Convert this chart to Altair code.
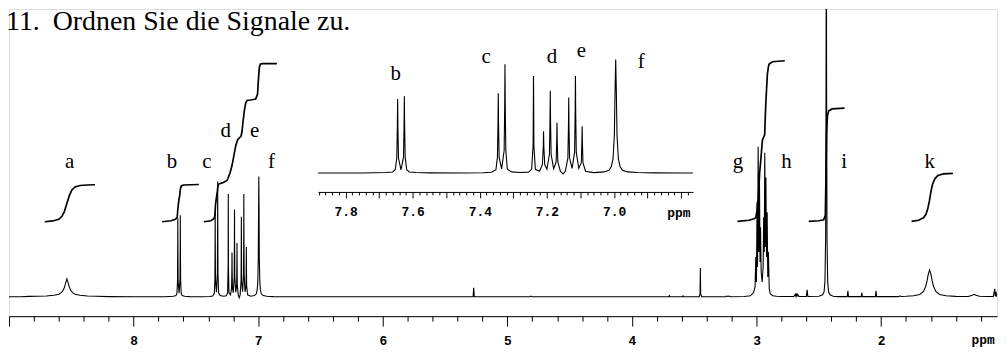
import altair as alt
import pandas as pd

TITLE_NUM = "11."
TITLE_TEXT = "Ordnen Sie die Signale zu."

# ---- spectrum trace: ppm, intensity (main-plot px above baseline)
base_left_ppm = [9.05, 9.0, 8.90, 8.84, 8.78]
base_left_v = [0, 0, 0, 0.4, 0.6]
peak_a_ppm = [8.70, 8.64, 8.60, 8.58, 8.565, 8.555, 8.545, 8.535, 8.525, 8.515, 8.505, 8.49, 8.47, 8.43, 8.37, 8.30, 8.20, 8.00, 7.882, 7.75]
peak_a_v = [0.8, 1.5, 2.6, 4.2, 6.5, 9.5, 14, 18, 14, 9.5, 6.5, 4.2, 2.6, 1.5, 0.8, 0.5, 0.2, 0, 0, 0]
peak_b_ppm = [7.68, 7.66, 7.652, 7.6475, 7.6458, 7.645, 7.6442, 7.6425, 7.635, 7.6275, 7.6258, 7.625, 7.6242, 7.6225, 7.618, 7.61, 7.59, 7.55, 7.45]
peak_b_v = [0.5, 1.2, 3.5, 16, 50, 79, 50, 16, 3.5, 17, 52, 82, 52, 17, 3.5, 1.2, 0.5, 0.2, 0]
peak_c_ppm = [7.39, 7.365, 7.352, 7.3475, 7.3458, 7.345, 7.3442, 7.3425, 7.335, 7.3275, 7.3258, 7.325, 7.3242, 7.3225, 7.318, 7.305, 7.28, 7.255]
peak_c_v = [0.3, 0.8, 3.5, 17, 53, 85, 53, 17, 4.5, 24, 72, 116, 72, 24, 4, 1.2, 0.6, 1]
peak_solv_ppm = [7.2455, 7.2412, 7.24, 7.2388, 7.2345]
peak_solv_v = [4, 30, 103.5, 30, 4]
peak_d_ppm = [7.222, 7.2135, 7.2108, 7.21, 7.2092, 7.2065, 7.2, 7.1925, 7.1908, 7.19, 7.1892, 7.1875, 7.18, 7.1725, 7.1708, 7.17, 7.1692, 7.1675, 7.16, 7.152]
peak_d_v = [2, 9, 28, 44.5, 28, 9, 4, 20, 55, 87.7, 55, 20, 4.5, 12, 34, 54, 34, 12, 2, -1.0]
peak_e_ppm = [7.145, 7.1375, 7.1358, 7.135, 7.1342, 7.1325, 7.125, 7.1175, 7.1158, 7.115, 7.1142, 7.1125, 7.105, 7.0975, 7.0958, 7.095, 7.0942, 7.0925, 7.085, 7.06, 7.03]
peak_e_v = [2, 16, 50, 80.5, 50, 16, 5, 22, 65, 103.5, 65, 22, 5, 11, 32, 50, 32, 11, 2, 0.5, 1.2]
peak_f_ppm = [7.015, 7.008, 7.003, 6.999, 6.997, 6.995, 6.993, 6.991, 6.987, 6.982, 6.975, 6.96, 6.93, 6.88, 6.80, 6.765, 6.70]
peak_f_v = [3, 7, 15, 40, 85, 121, 85, 40, 15, 7, 3, 1.2, 0.5, 0.2, 0, 0, 0]
mid_ppm = [6.0, 5.40, 5.275, 5.27, 5.265, 5.20, 4.82, 4.81, 4.80, 3.80, 3.705, 3.70, 3.695, 3.595, 3.59, 3.585, 3.46, 3.4535, 3.451, 3.4485, 3.44, 3.25, 3.24, 3.23, 3.22, 3.21, 3.10]
mid_v = [0, 0, 0, 9, 0, 0, 0, 0.7, 0, 0, 0, 1.2, 0, 0, 1, 0, 0, 3, 29, 3, 0, 0, 0.8, 0.3, 0.8, 0, 0.3]
peak_gh_ppm = [3.05, 3.025, 3.012, 3.006, 3.001, 2.996, 2.992, 2.987, 2.982, 2.977, 2.972, 2.968, 2.963, 2.955, 2.947, 2.943, 2.938, 2.934, 2.929, 2.925, 2.92, 2.915, 2.91, 2.905, 2.898, 2.89, 2.87, 2.84]
peak_gh_v = [1, 4, 10, 40, 15, 95, 30, 151, 45, 125, 35, 70, 25, 15, 30, 80, 45, 145, 50, 120, 40, 85, 20, 45, 8, 3, 1, 0.5]
small_ppm = [2.80, 2.70, 2.69, 2.685, 2.68, 2.675, 2.67, 2.66, 2.60, 2.594, 2.588]
small_v = [0.3, 0.3, 2.5, 0.8, 3.5, 0.8, 2.5, 0.3, 0.3, 7, 0.3]
peak_i_ppm = [2.50, 2.47, 2.458, 2.451, 2.4455, 2.4425, 2.44, 2.4375, 2.4345, 2.429, 2.422, 2.41, 2.385, 2.35]
peak_i_v = [0.6, 2, 5, 15, 60, 200, 420, 200, 60, 15, 5, 2, 0.6, 0.2]
small2_ppm = [2.272, 2.267, 2.262, 2.16, 2.155, 2.15, 2.046, 2.041, 2.036, 1.86, 1.85, 1.84]
small2_v = [0.2, 6, 0.2, 0.2, 4, 0.2, 0.2, 6, 0.2, 0.2, 1, 0.3]
peak_k_ppm = [1.80, 1.74, 1.69, 1.66, 1.641, 1.631, 1.621, 1.611, 1.601, 1.591, 1.581, 1.561, 1.531, 1.48, 1.40]
peak_k_v = [0.5, 1, 2.4, 5.4, 11, 16.5, 23, 27, 23, 16.5, 11, 5.4, 2.4, 1, 0.4]
tail_ppm = [1.30, 1.27, 1.25, 1.24, 1.21, 1.15, 1.10, 1.088, 1.084, 1.078, 1.073, 1.0]
tail_v = [0.3, 1.5, 2.5, 1.5, 0.5, 0.3, 0.3, 8, 0.5, 5, 0.5, 0.3]

# ---- integral curves (ppm, height in main-plot px above baseline)
int_a_ppm = [8.713, 8.65, 8.60, 8.575, 8.555, 8.535, 8.515, 8.495, 8.47, 8.43, 8.37, 8.31]
int_a_v = [75.5, 76.3, 78, 81, 86, 94, 102, 107.5, 110.5, 112, 112.5, 112.7]
int_b_ppm = [7.771, 7.70, 7.665, 7.65, 7.645, 7.638, 7.63, 7.625, 7.618, 7.60, 7.476]
int_b_v = [75.5, 76.5, 78, 80, 88, 96, 102, 108, 111.5, 112.5, 113]
int_cf_ppm = [7.436, 7.38, 7.355, 7.347, 7.343, 7.335, 7.328, 7.323, 7.315, 7.28, 7.25, 7.243, 7.237, 7.225, 7.21, 7.195, 7.18, 7.165, 7.15, 7.138, 7.13, 7.12, 7.11, 7.10, 7.09, 7.06, 7.02, 7.005, 7.0, 6.995, 6.99, 6.983, 6.97, 6.85]
int_cf_v = [75.5, 76.5, 78.5, 82, 92, 100, 106, 111.5, 113.5, 115, 117, 119, 121, 125, 132, 142, 152, 158, 160, 161.5, 166, 178, 188, 195, 197.5, 198, 199, 204, 215, 224, 231, 234, 234.5, 234.5]
int_gh_ppm = [3.153, 3.06, 3.02, 3.006, 2.995, 2.985, 2.975, 2.966, 2.958, 2.953, 2.945, 2.935, 2.927, 2.92, 2.913, 2.905, 2.9, 2.873, 2.773]
int_gh_v = [75.8, 77, 78.5, 79.5, 88, 100, 125, 137.5, 150, 157.5, 160, 163, 190.8, 208, 224, 231, 234, 236.5, 237.5]
int_i_ppm = [2.581, 2.50, 2.461, 2.448, 2.443, 2.438, 2.431, 2.421, 2.394, 2.294]
int_i_v = [75.8, 76.5, 77.5, 82, 120, 164, 182, 187, 189, 189.8]
int_k_ppm = [1.756, 1.70, 1.66, 1.64, 1.625, 1.612, 1.60, 1.588, 1.57, 1.545, 1.50, 1.424]
int_k_v = [75.8, 77, 79.5, 83, 89, 97, 106, 113, 118.5, 122, 123.7, 124.2]

# ---- signal letters
main_labels = ["a", "b", "c", "d", "e", "f", "g", "h", "i", "k"]
main_label_ppm = [8.513, 7.691, 7.412, 7.260, 7.029, 6.893, 3.150, 2.759, 2.296, 1.610]
main_label_v = [129.5, 129.5, 129.5, 160.5, 160.5, 129.5, 129.5, 129.5, 129.5, 129.5]
inset_labels = ["b", "c", "d", "e", "f"]
inset_label_ppm = [7.651, 7.381, 7.185, 7.097, 6.919]
inset_label_v = [99.6, 117.7, 117.7, 124.0, 112.4]

main_ticks = [round(9.0 - 0.2 * i, 1) for i in range(40)]
inset_ticks = [round(7.88 - 0.02 * i, 2) for i in range(56)]

trace_ppm = (base_left_ppm + peak_a_ppm + peak_b_ppm + peak_c_ppm + peak_solv_ppm + peak_d_ppm
             + peak_e_ppm + peak_f_ppm + mid_ppm + peak_gh_ppm + small_ppm + peak_i_ppm
             + small2_ppm + peak_k_ppm + tail_ppm)
trace_v = (base_left_v + peak_a_v + peak_b_v + peak_c_v + peak_solv_v + peak_d_v
           + peak_e_v + peak_f_v + mid_v + peak_gh_v + small_v + peak_i_v
           + small2_v + peak_k_v + tail_v)
spec_df = pd.DataFrame({"ppm": trace_ppm, "v": trace_v})

int_rows = []
for name, pp, vv in [("a", int_a_ppm, int_a_v), ("b", int_b_ppm, int_b_v), ("cf", int_cf_ppm, int_cf_v),
                     ("gh", int_gh_ppm, int_gh_v), ("i", int_i_ppm, int_i_v), ("k", int_k_ppm, int_k_v)]:
    for p, v in zip(pp, vv):
        int_rows.append({"grp": name, "ppm": p, "v": v})
int_df = pd.DataFrame(int_rows)

lab_df = pd.DataFrame({"lab": main_labels, "ppm": main_label_ppm, "v": main_label_v})
ilab_df = pd.DataFrame({"lab": inset_labels, "ppm": inset_label_ppm, "v": inset_label_v})

W, H = 994, 309
MONO = "Liberation Mono"
SERIF = "Liberation Serif"

main_x_scale = alt.Scale(domain=[1.07, 9.0], reverse=True, nice=False, zero=False)
main_y_scale = alt.Scale(domain=[-19.5, 289.5], nice=False, zero=False)
is_int = "abs(datum.value - round(datum.value)) < 0.01"
main_axis = alt.Axis(
    orient="bottom", values=main_ticks, title=None, grid=False,
    labelExpr=f"({is_int}) && datum.value < 8.5 ? format(datum.value, '.0f') : ''",
    tickSize={"condition": {"test": is_int, "value": 10}, "value": 5},
    tickColor="black", domainColor="black", tickWidth=1, domainWidth=1,
    labelFont=MONO, labelFontWeight="bold", labelFontSize=13, labelColor="black",
    labelPadding=8, labelOverlap=False, labelFlush=False, labelBound=False,
)
mx = alt.X("ppm:Q", scale=main_x_scale, axis=main_axis)
my = alt.Y("v:Q", scale=main_y_scale, axis=None)

main_line = alt.Chart(spec_df).mark_line(color="black", strokeWidth=1.1, clip=True).encode(x=mx, y=my)
integrals = alt.Chart(int_df).mark_line(color="black", strokeWidth=1.7, clip=True).encode(
    x=mx, y=my, detail="grp:N")
letters = alt.Chart(lab_df).mark_text(font=SERIF, fontSize=21, color="black", baseline="alphabetic",
                                       align="center").encode(x=mx, y=my, text="lab:N")
title_num = alt.Chart(pd.DataFrame({"t": [TITLE_NUM]})).mark_text(
    font=SERIF, fontSize=28, color="black", align="right", baseline="alphabetic").encode(
    x=alt.value(31), y=alt.value(21), text="t:N")
title_txt = alt.Chart(pd.DataFrame({"t": [TITLE_TEXT]})).mark_text(
    font=SERIF, fontSize=28, color="black", align="left", baseline="alphabetic").encode(
    x=alt.value(44), y=alt.value(21), text="t:N")
ppm_main = alt.Chart(pd.DataFrame({"t": ["ppm"]})).mark_text(
    font=MONO, fontWeight="bold", fontSize=13, color="black", align="center", baseline="middle").encode(
    x=alt.value(980), y=alt.value(333), text="t:N")

main_group = alt.layer(main_line, integrals, letters, title_num, title_txt, ppm_main)

# ---- inset
INSET_RANGE = [311, 688]
inset_x_scale = alt.Scale(domain=[6.765, 7.882], reverse=True, nice=False, zero=False, range=INSET_RANGE)
inset_y_scale = alt.Scale(domain=[0, 127.2], nice=False, zero=False, range=[165, 45])
is_tenth = "abs(datum.value * 10 - round(datum.value * 10)) < 0.01"
is_fifth = "abs(datum.value * 5 - round(datum.value * 5)) < 0.01"
inset_axis = alt.Axis(
    orient="bottom", offset=-125, values=inset_ticks, title=None, grid=False,
    labelExpr=f"({is_fifth}) && datum.value > 6.9 ? format(datum.value, '.1f') : ''",
    tickSize={"condition": {"test": is_tenth, "value": 6}, "value": 3},
    tickColor="black", domainColor="black", tickWidth=1, domainWidth=1,
    labelFont=MONO, labelFontWeight="bold", labelFontSize=13, labelColor="black",
    labelPadding=8, labelOverlap=False, labelFlush=False, labelBound=False,
)
ix = alt.X("ppm:Q", scale=inset_x_scale, axis=inset_axis)
iy = alt.Y("v:Q", scale=inset_y_scale, axis=None)

inset_line = alt.Chart(spec_df).transform_filter(
    alt.FieldRangePredicate(field="ppm", range=[6.765, 7.882])
).mark_line(color="black", strokeWidth=1.1).encode(x=ix, y=iy)
inset_letters = alt.Chart(ilab_df).mark_text(font=SERIF, fontSize=21, color="black", baseline="alphabetic",
                                             align="center").encode(x=ix, y=iy, text="lab:N")
ppm_inset = alt.Chart(pd.DataFrame({"t": ["ppm"]})).mark_text(
    font=MONO, fontWeight="bold", fontSize=13, color="black", align="center", baseline="middle").encode(
    x=alt.value(674), y=alt.value(205), text="t:N")

inset_group = alt.layer(inset_line, inset_letters, ppm_inset)

chart = alt.layer(main_group, inset_group).resolve_scale(
    x="independent", y="independent"
).properties(
    width=W, height=H, autosize="none",
    padding={"left": 1, "top": 0, "right": 2, "bottom": 36},
).configure_view(stroke=None).configure(background="white")

chart.save("out.html", embed_options={"renderer": "svg", "actions": False})
